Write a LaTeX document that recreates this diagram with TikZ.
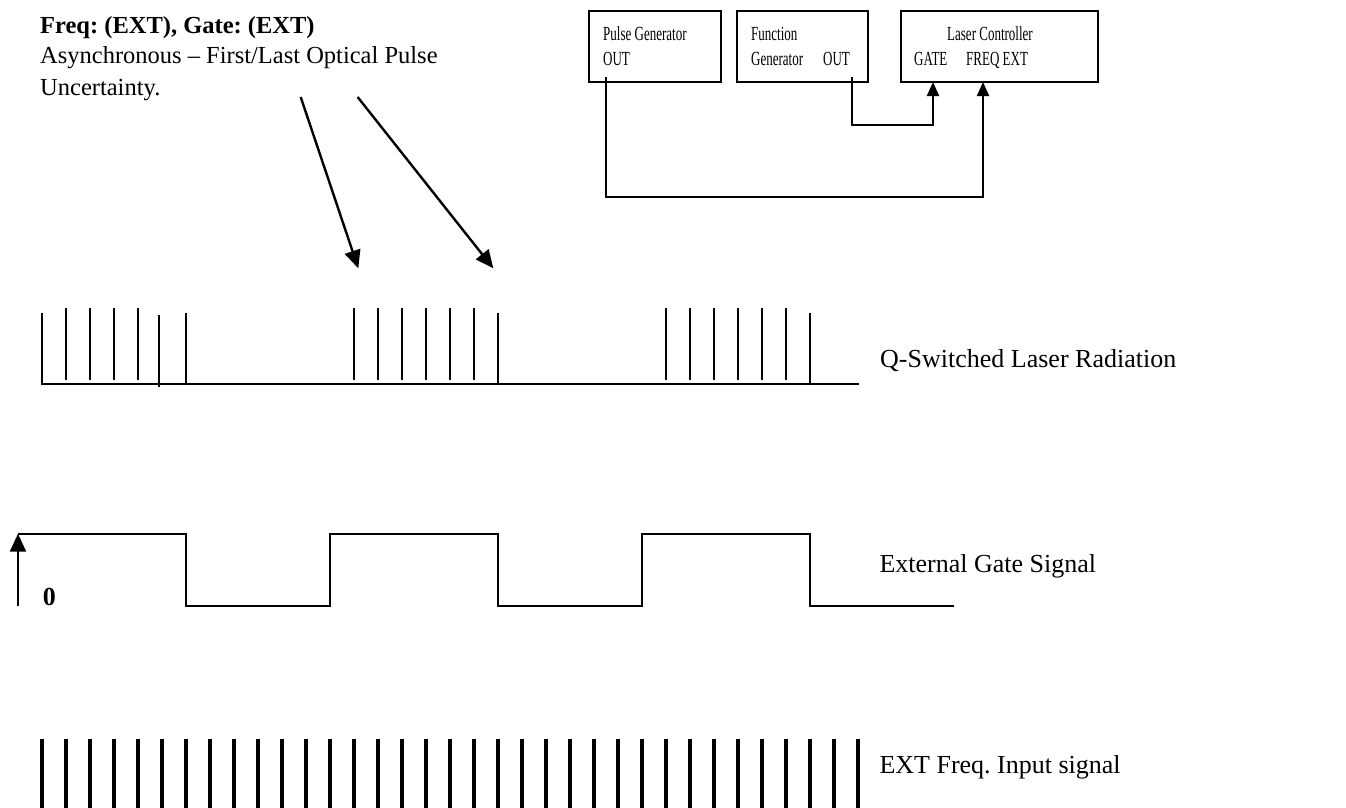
\documentclass[tikz,border=0pt]{standalone}
\usepackage{fontspec}
\setmainfont{Liberation Serif}
\newfontfamily\boxfont[FakeStretch=0.65]{Liberation Serif}
\usetikzlibrary{arrows.meta}
\frenchspacing
\begin{document}
\begin{tikzpicture}[x=1pt,y=-1pt,
  blk/.style={draw,line width=2pt,inner sep=0pt},
  btxt/.style={anchor=base west,inner sep=0pt,font=\boxfont\fontsize{20}{24}\selectfont},
  ltxt/.style={anchor=base west,inner sep=0pt,font=\fontsize{24.5}{31}\selectfont},
  rtxt/.style={anchor=base west,inner sep=0pt,font=\fontsize{26}{31}\selectfont},
  wire/.style={line width=2pt},
  sig/.style={line width=2.3pt},
  qp/.style={line width=2.3pt},
  fp/.style={line width=3.2pt},
  up/.style={-{Triangle[length=14pt,width=12pt]}},
  bigarr/.style={-{Triangle[length=18pt,width=16pt]}}
]
\useasboundingbox (0,0) rectangle (1346,807);

% ---- top-left text
\node[ltxt,font=\bfseries\fontsize{24.5}{31}\selectfont] (t1) at (40,33) {Freq: (EXT), Gate: (EXT)};
\node[ltxt] (t2) at (40,63) {Asynchronous -- First/Last Optical Pulse};
\node[ltxt] (t3) at (40,95) {Uncertainty.};

\coordinate (a1s) at (300.7,97);
\coordinate (a1e) at (358.3,268.3);
\coordinate (a2s) at (357.6,97);
\coordinate (a2e) at (493.3,268.3);
\draw[wire,line width=2.4pt,bigarr] (a1s) -- (a1e);
\draw[wire,line width=2.4pt,bigarr] (a2s) -- (a2e);

% ---- boxes
\node[blk,minimum width=132pt,minimum height=71pt] (pg) at (655,46.5) {};
\node[blk,minimum width=131pt,minimum height=71pt] (fg) at (802.5,46.5) {};
\node[blk,minimum width=197pt,minimum height=71pt] (lc) at (999.5,46.5) {};

\node[btxt] (pgt) at (603,40) {Pulse Generator};
\node[btxt] (pgo) at (603,65) {OUT};
\node[btxt] (fgt) at (751,40) {Function};
\node[btxt] (fgg) at (751,65) {Generator};
\node[btxt] (fgo) at (823,65) {OUT};
\node[btxt] (lct) at (947,40) {Laser Controller};
\node[btxt] (lcg) at (914,65) {GATE};
\node[btxt] (lcf) at (966,65) {FREQ EXT};

\coordinate (pgout) at (606,77);
\coordinate (fgout) at (852,77);
\coordinate (lcgate) at (933,82);
\coordinate (lcfreq) at (983,82);
\coordinate (c1) at (606,197);
\coordinate (c2) at (852,125);
\draw[wire,up] (pgout) -- (c1) -| (lcfreq);
\draw[wire,up] (fgout) -- (c2) -| (lcgate);

% ---- Q-switched laser radiation
\coordinate (qb0) at (42,384.3);
\coordinate (qb1) at (859,384.3);
\draw[qp] (42,312.7) -- (qb0) -- (qb1);
\foreach \x in {66,90,114,138,354,378,402,426,450,474,666,690,714,738,762,786}
  \draw[qp] (\x,308) -- (\x,380);
\draw[qp] (158.7,315) -- (158.7,387);
\foreach \x in {186,498,810}
  \draw[qp] (\x,312.7) -- (\x,384.3);
\node[rtxt] (ql) at (880,367.7) {Q-Switched Laser Radiation};

% ---- external gate signal
\coordinate (g0) at (18,605.7);
\coordinate (g1) at (18,533.7);
\draw[sig,bigarr] (g0) -- (g1);
\draw[sig] (g1) -- (186.3,533.7) -- (186.3,605.7) -- (330.3,605.7) -- (330.3,533.7)
  -- (498.3,533.7) -- (498.3,605.7) -- (642,605.7) -- (642,533.7) -- (810,533.7)
  -- (810,605.7) -- (954.3,605.7);
\node[anchor=base,inner sep=0pt,font=\bfseries\fontsize{26}{30}\selectfont] (zero) at (49.3,605.7) {0};
\node[rtxt] (gl) at (879.3,572.3) {External Gate Signal};

% ---- EXT freq input
\foreach \i in {0,...,34}
  \draw[fp] ({42+24*\i},739.3) -- ({42+24*\i},808);
\node[rtxt] (fl) at (879.3,773.3) {EXT Freq. Input signal};
\end{tikzpicture}
\end{document}
